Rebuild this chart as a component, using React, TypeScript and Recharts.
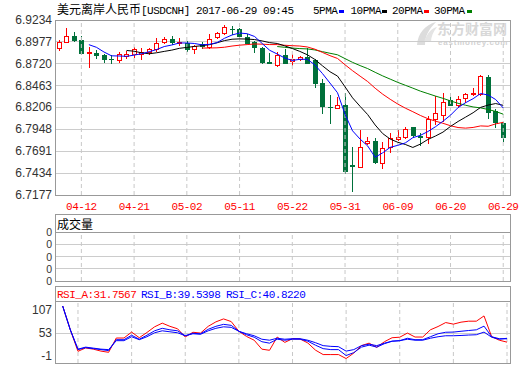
import React from "react";
import { ComposedChart, Bar, Line, XAxis, YAxis, CartesianGrid, ReferenceLine } from "recharts";

const dates = [
  "04-07", "04-10", "04-11", "04-12", "04-13", "04-14", "04-17", "04-18", "04-19", "04-20",
  "04-21", "04-24", "04-25", "04-26", "04-27", "04-28", "05-01", "05-02", "05-03", "05-04",
  "05-05", "05-08", "05-09", "05-10", "05-11", "05-12", "05-15", "05-16", "05-17", "05-18",
  "05-19", "05-22", "05-23", "05-24", "05-25", "05-26", "05-29", "05-30", "05-31", "06-01",
  "06-02", "06-05", "06-06", "06-07", "06-08", "06-09", "06-12", "06-13", "06-14", "06-15",
  "06-16", "06-19", "06-20", "06-21", "06-22", "06-23", "06-26", "06-27", "06-28", "06-29",
];

const opens = [
  6.8905, 6.8979, 6.9046, 6.8999, 6.8846, 6.8850, 6.8823, 6.8781, 6.8764, 6.8814,
  6.8834, 6.8831, 6.8861, 6.8890, 6.8979, 6.9011, 6.8964, 6.8960, 6.8890, 6.8952,
  6.8913, 6.9038, 6.9085, 6.9132, 6.9128, 6.9038, 6.8979, 6.8908, 6.8744, 6.8705,
  6.8823, 6.8752, 6.8781, 6.8803, 6.8764, 6.8490, 6.8217, 6.8203, 6.8235, 6.7530,
  6.7503, 6.7785, 6.7812, 6.7557, 6.7738, 6.7832, 6.7855, 6.7973, 6.7871, 6.7862,
  6.8067, 6.8114, 6.8290, 6.8235, 6.8314, 6.8361, 6.8364, 6.8568, 6.8168, 6.8027,
];
const closes = [
  6.8979, 6.9050, 6.8999, 6.8843, 6.8852, 6.8823, 6.8776, 6.8772, 6.8831, 6.8834,
  6.8890, 6.8861, 6.8890, 6.8960, 6.9011, 6.8979, 6.8979, 6.8890, 6.8932, 6.8928,
  6.9011, 6.9078, 6.9148, 6.9125, 6.9046, 6.8967, 6.8913, 6.8737, 6.8729, 6.8823,
  6.8732, 6.8772, 6.8803, 6.8732, 6.8490, 6.8227, 6.8211, 6.8235, 6.7463, 6.7522,
  6.7738, 6.7812, 6.7568, 6.7726, 6.7844, 6.7855, 6.7949, 6.7882, 6.7859, 6.8067,
  6.8137, 6.8274, 6.8238, 6.8302, 6.8361, 6.8372, 6.8576, 6.8149, 6.8039, 6.7862,
];
const highs = [
  6.8999, 6.9140, 6.9097, 6.9050, 6.8917, 6.8881, 6.8834, 6.8823, 6.8854, 6.8870,
  6.8913, 6.8901, 6.8908, 6.9019, 6.9038, 6.9050, 6.9019, 6.8987, 6.8940, 6.8979,
  6.9066, 6.9097, 6.9175, 6.9163, 6.9144, 6.9064, 6.8987, 6.8913, 6.8843, 6.8861,
  6.8890, 6.8834, 6.8811, 6.8901, 6.8770, 6.8537, 6.8352, 6.8332, 6.8372, 6.7745,
  6.7941, 6.7862, 6.7844, 6.7804, 6.7902, 6.7941, 6.7973, 6.7976, 6.7906, 6.8111,
  6.8337, 6.8372, 6.8370, 6.8341, 6.8372, 6.8431, 6.8588, 6.8588, 6.8184, 6.8039,
];
const lows = [
  6.8887, 6.8975, 6.8987, 6.8840, 6.8676, 6.8791, 6.8744, 6.8732, 6.8744, 6.8791,
  6.8803, 6.8776, 6.8831, 6.8870, 6.8960, 6.8948, 6.8940, 6.8870, 6.8850, 6.8901,
  6.8905, 6.9019, 6.9073, 6.9066, 6.9026, 6.8960, 6.8854, 6.8729, 6.8723, 6.8697,
  6.8729, 6.8705, 6.8764, 6.8729, 6.8450, 6.8144, 6.8027, 6.8196, 6.7432, 6.7228,
  6.7503, 6.7777, 6.7557, 6.7498, 6.7686, 6.7823, 6.7844, 6.7862, 6.7765, 6.7792,
  6.8015, 6.8050, 6.8235, 6.8215, 6.8274, 6.8353, 6.8353, 6.8079, 6.7980, 6.7815,
];

const ma5 = [
  null, null, null, null, 6.8944, 6.8913, 6.8858, 6.8813, 6.8811, 6.8807,
  6.8821, 6.8838, 6.8861, 6.8887, 6.8922, 6.8940, 6.8964, 6.8964, 6.8958, 6.8942,
  6.8948, 6.8968, 6.9019, 6.9058, 6.9081, 6.9073, 6.9040, 6.8958, 6.8878, 6.8834,
  6.8787, 6.8758, 6.8772, 6.8772, 6.8706, 6.8605, 6.8493, 6.8379, 6.8125, 6.7931,
  6.7834, 6.7754, 6.7620, 6.7673, 6.7737, 6.7761, 6.7789, 6.7851, 6.7878, 6.7923,
  6.7979, 6.8044, 6.8115, 6.8204, 6.8262, 6.8309, 6.8370, 6.8352, 6.8299, 6.8200,
];
const ma10 = [
  null, null, null, null, null, null, null, null, null, 6.8876,
  6.8867, 6.8848, 6.8837, 6.8849, 6.8865, 6.8880, 6.8901, 6.8912, 6.8923, 6.8932,
  6.8944, 6.8966, 6.8992, 6.9008, 6.9012, 6.9010, 6.9004, 6.8988, 6.8968, 6.8958,
  6.8930, 6.8899, 6.8865, 6.8825, 6.8770, 6.8696, 6.8626, 6.8575, 6.8449, 6.8319,
  6.8219, 6.8123, 6.8000, 6.7899, 6.7834, 6.7797, 6.7771, 6.7736, 6.7775, 6.7830,
  6.7870, 6.7916, 6.7983, 6.8041, 6.8092, 6.8144, 6.8207, 6.8234, 6.8252, 6.8231,
];
const ma20 = [
  null, null, null, null, null, null, null, null, null, null,
  null, null, null, null, null, null, null, null, null, 6.8904,
  6.8905, 6.8907, 6.8914, 6.8928, 6.8938, 6.8945, 6.8952, 6.8950, 6.8945, 6.8945,
  6.8937, 6.8932, 6.8928, 6.8917, 6.8891, 6.8853, 6.8815, 6.8782, 6.8708, 6.8638,
  6.8574, 6.8511, 6.8432, 6.8362, 6.8302, 6.8246, 6.8198, 6.8156, 6.8112, 6.8074,
  6.8045, 6.8020, 6.7991, 6.7970, 6.7963, 6.7971, 6.7989, 6.7985, 6.8013, 6.8031,
];
const ma30 = [
  null, null, null, null, null, null, null, null, null, null,
  null, null, null, null, null, null, null, null, null, null,
  null, null, null, null, null, null, null, null, null, 6.8922,
  6.8913, 6.8904, 6.8898, 6.8894, 6.8882, 6.8862, 6.8843, 6.8825, 6.8780, 6.8736,
  6.8698, 6.8663, 6.8619, 6.8577, 6.8539, 6.8501, 6.8467, 6.8433, 6.8398, 6.8369,
  6.8340, 6.8313, 6.8283, 6.8255, 6.8232, 6.8212, 6.8201, 6.8182, 6.8159, 6.8127,
];

const volumes = [
  0, 0, 0, 0, 0, 0, 0, 0, 0, 0, 0, 0, 0, 0, 0, 0, 0, 0, 0, 0,
  0, 0, 0, 0, 0, 0, 0, 0, 0, 0, 0, 0, 0, 0, 0, 0, 0, 0, 0, 0,
  0, 0, 0, 0, 0, 0, 0, 0, 0, 0, 0, 0, 0, 0, 0, 0, 0, 0, 0, 0,
];

const rsiA = [
  null, 116.3, 60.6, 10.3, 18.2, 15.4, 10.8, 8.0, 41.4, 41.4,
  55.3, 42.1, 54.4, 67.6, 76.2, 68.8, 63.0, 43.7, 54.9, 53.0,
  68.8, 79.2, 86.1, 79.9, 57.2, 45.1, 36.3, 15.4, 12.7, 43.7,
  31.2, 39.8, 39.1, 29.8, 13.1, 2.7, 2.7, 2.7, -6.6, 6.2,
  23.6, 29.4, 19.6, 32.8, 42.1, 43.3, 53.0, 43.7, 43.7, 60.6,
  68.3, 77.6, 73.9, 78.5, 80.8, 80.8, 93.1, 44.4, 36.3, 31.76,
];
const rsiB = [
  null, 116.3, 60.6, 14.3, 18.9, 16.6, 14.3, 12.0, 37.5, 37.5,
  47.9, 38.6, 47.9, 58.3, 64.1, 60.6, 58.3, 46.7, 52.5, 51.4,
  61.8, 68.8, 73.4, 71.1, 57.2, 49.1, 43.3, 32.8, 29.4, 38.6,
  36.3, 38.6, 38.6, 34.0, 24.7, 16.6, 14.3, 14.3, 0.4, 7.3,
  20.1, 24.7, 20.1, 28.2, 34.0, 35.2, 40.9, 37.5, 37.5, 44.4,
  51.4, 54.9, 55.3, 57.2, 59.0, 60.6, 69.2, 44.4, 39.8, 39.54,
];
const rsiC = [
  null, 116.3, 60.6, 15.4, 20.1, 17.8, 15.4, 14.3, 35.2, 35.2,
  44.4, 37.5, 44.4, 53.7, 58.3, 56.0, 53.7, 46.7, 51.4, 50.2,
  58.3, 64.1, 67.6, 66.4, 57.2, 51.4, 46.7, 38.6, 36.3, 40.9,
  38.6, 39.8, 39.8, 36.3, 30.5, 23.6, 21.9, 21.2, 10.8, 14.3,
  23.6, 27.0, 23.6, 29.4, 34.0, 35.2, 38.6, 36.3, 36.3, 40.9,
  44.4, 46.7, 46.7, 47.4, 48.4, 49.1, 55.3, 43.3, 38.6, 40.82,
];

const dateTicks = ["04-12", "04-21", "05-02", "05-11", "05-22", "05-31", "06-09", "06-20", "06-29"];
const priceTicks = [6.7177, 6.7434, 6.7691, 6.7948, 6.8206, 6.8463, 6.872, 6.8977, 6.9234];
const volTicks = [0, 1, 2, 3, 4];
const volTickLabels = ["0", "0", "0", "0", "0"];
const rsiTicks = [-1, 53, 107];

const RED = "#ff0000";
const GREEN = "#00703a";
const GRID = "#cccccc";
const FRAME = "#999999";
const MONO = "Liberation Mono, DejaVu Sans Mono, monospace";
const SANS = "Liberation Sans, Arial, sans-serif";
const CJK = "Noto Sans CJK SC, sans-serif";

const rows = dates.map((d, i) => ({
  date: d,
  open: opens[i],
  close: closes[i],
  high: highs[i],
  low: lows[i],
  range: [lows[i], highs[i]],
  ma5: ma5[i],
  ma10: ma10[i],
  ma20: ma20[i],
  ma30: ma30[i],
  vol: volumes[i],
  rsiA: rsiA[i],
  rsiB: rsiB[i],
  rsiC: rsiC[i],
}));

function Candle(props: any) {
  const { x, y, width, height, payload } = props;
  if (!payload || x == null || y == null || height == null) return null;
  const o = payload.open, c = payload.close, hi = payload.high, lo = payload.low;
  const top = Math.min(y, y + height);
  const h = Math.abs(height);
  const span = hi - lo;
  const py = (v: number) => (span > 0 ? top + ((hi - v) / span) * h : top);
  const cxi = Math.round(x + width / 2);
  const cx = cxi + 0.5;
  const up = c >= o;
  const col = up ? RED : GREEN;
  const yHi = Math.round(py(hi));
  const yLo = Math.round(py(lo));
  const b1 = Math.round(py(Math.max(o, c)));
  const b2 = Math.round(py(Math.min(o, c)));
  if (b2 - b1 < 1) {
    return (
      <g shapeRendering="crispEdges">
        <line x1={cx} x2={cx} y1={yHi} y2={yLo + 1} stroke={col} />
        <line x1={cxi - 2} x2={cxi + 3} y1={b1 + 0.5} y2={b1 + 0.5} stroke={col} />
      </g>
    );
  }
  if (up) {
    return (
      <g shapeRendering="crispEdges">
        {b1 > yHi && <line x1={cx} x2={cx} y1={yHi} y2={b1} stroke={col} />}
        {yLo > b2 && <line x1={cx} x2={cx} y1={b2 + 1} y2={yLo + 1} stroke={col} />}
        <rect x={cxi - 2 + 0.5} y={b1 + 0.5} width={4} height={b2 - b1} fill="#ffffff" stroke={col} />
      </g>
    );
  }
  return (
    <g shapeRendering="crispEdges">
      <line x1={cx} x2={cx} y1={yHi} y2={yLo + 1} stroke={col} />
      <rect x={cxi - 2} y={b1} width={5} height={b2 - b1 + 1} fill={col} />
    </g>
  );
}

const DateTick = (p: any) => (
  <text x={p.x} y={p.y + 15} textAnchor="middle" fill={RED} fontSize={11} fontFamily={MONO} letterSpacing={-0.5}>
    {p.payload.value}
  </text>
);
const PriceTick = (p: any) => (
  <text x={p.x} y={p.y + 4} textAnchor="end" fill="#333333" fontSize={12} fontFamily={SANS}>
    {Number(p.payload.value).toFixed(4)}
  </text>
);
const VolTick = (p: any) => (
  <text x={p.x} y={p.y + 4} textAnchor="end" fill="#333333" fontSize={10.5} fontFamily={SANS}>
    {volTickLabels[volTicks.indexOf(p.payload.value)] ?? "0"}
  </text>
);
const RsiTick = (p: any) => (
  <text x={p.x} y={p.y + 4} textAnchor="end" fill="#333333" fontSize={12} fontFamily={SANS}>
    {String(p.payload.value)}
  </text>
);

const vLines = (prefix: string) =>
  dateTicks.map((d) => (
    <ReferenceLine key={prefix + d} x={d} stroke="#c8c8c8" strokeDasharray="4 3" ifOverflow="extendDomain" />
  ));

export default function App() {
  return (
    <div style={{ position: "absolute", left: 0, top: 0, width: 520, height: 365, background: "#ffffff", overflow: "hidden" }}>
      <svg width={520} height={365} style={{ position: "absolute", left: 0, top: 0 }}>
        <path d="M417 45 C418 33 425 25 436 22 C429 29 425 36 425 45 Z" fill="#dcdcdc" />
        <path d="M424 42 C427 33 432 28 437 27 C433 32 431 37 431 42 Z" fill="#e4e4e4" />
        <text x={437} y={34} fontSize={14} fontWeight="bold" fill="#d8d8d8" fontFamily={CJK}>东方财富网</text>
        <text x={438} y={45} fontSize={8} fontWeight="bold" fill="#d2d2d2" fontFamily={SANS} letterSpacing={0.8}>eastmoney.com</text>
      </svg>

      <div style={{ position: "absolute", left: 0, top: 0 }}>
        <ComposedChart width={520} height={215} data={rows} margin={{ top: 20, right: 10, bottom: 0, left: 0 }}>
          <CartesianGrid vertical={false} stroke={GRID} shapeRendering="crispEdges" />
          {vLines("m")}
          <XAxis dataKey="date" ticks={dateTicks} interval={0} tick={<DateTick />} tickLine={false} axisLine={false}
            height={20} tickSize={0} tickMargin={0} padding={{ left: 0, right: 3 }} />
          <YAxis domain={[6.7177, 6.9234]} ticks={priceTicks} interval={0} tick={<PriceTick />} tickLine={false}
            axisLine={false} width={55} tickSize={0} tickMargin={3} allowDataOverflow type="number" />
          <Bar dataKey="range" barSize={5} shape={(p: any) => <Candle {...p} />} isAnimationActive={false} />
          <Line dataKey="ma30" stroke="#008000" strokeWidth={1} dot={false} activeDot={false} isAnimationActive={false} />
          <Line dataKey="ma20" stroke="#ff0000" strokeWidth={1} dot={false} activeDot={false} isAnimationActive={false} />
          <Line dataKey="ma10" stroke="#000000" strokeWidth={1} dot={false} activeDot={false} isAnimationActive={false} />
          <Line dataKey="ma5" stroke="#0000ff" strokeWidth={1} dot={false} activeDot={false} isAnimationActive={false} />
        </ComposedChart>
      </div>

      <div style={{ position: "absolute", left: 0, top: 225 }}>
        <ComposedChart width={520} height={63} data={rows} margin={{ top: 7, right: 10, bottom: 7, left: 0 }}>
          <CartesianGrid vertical={false} stroke={GRID} shapeRendering="crispEdges" />
          {vLines("v")}
          <XAxis dataKey="date" hide padding={{ left: 0, right: 3 }} />
          <YAxis domain={[0, 4]} ticks={volTicks} interval={0} tick={<VolTick />} tickLine={false} axisLine={false}
            width={55} tickSize={0} tickMargin={3} type="number" allowDataOverflow />
          <Bar dataKey="vol" fill="#999999" isAnimationActive={false} />
        </ComposedChart>
      </div>

      <div style={{ position: "absolute", left: 0, top: 301 }}>
        <ComposedChart width={520} height={62} data={rows} margin={{ top: 0, right: 10, bottom: 0, left: 0 }}>
          {vLines("r")}
          <ReferenceLine y={53} stroke={GRID} shapeRendering="crispEdges" />
          <XAxis dataKey="date" hide padding={{ left: 0, right: 3 }} />
          <YAxis domain={[-17, 128]} ticks={rsiTicks} interval={0} tick={<RsiTick />} tickLine={false} axisLine={false}
            width={55} tickSize={0} tickMargin={3} type="number" allowDataOverflow />
          <Line dataKey="rsiA" stroke="#ff0000" strokeWidth={1} dot={false} activeDot={false} isAnimationActive={false} />
          <Line dataKey="rsiC" stroke="#0000ff" strokeWidth={1} dot={false} activeDot={false} isAnimationActive={false} />
          <Line dataKey="rsiB" stroke="#0000ff" strokeWidth={1} dot={false} activeDot={false} isAnimationActive={false} />
        </ComposedChart>
      </div>

      <svg width={520} height={365} style={{ position: "absolute", left: 0, top: 0, pointerEvents: "none" }}>
        <text x={57} y={14} fontSize={12} fill="#000000">
          <tspan fontFamily={CJK}>美元离岸人民币</tspan>
          <tspan fontFamily={MONO} fontSize={11} letterSpacing={-0.5}>[USDCNH] 2017-06-29 09:45</tspan>
        </text>
        <text x={313} y={14} fontSize={11} fontFamily={MONO} letterSpacing={-0.5} fill="#000000">5PMA</text>
        <rect x={339} y={10} width={5} height={3} fill="#0000ff" />
        <text x={350.5} y={14} fontSize={11} fontFamily={MONO} letterSpacing={-0.5} fill="#000000">10PMA</text>
        <rect x={382} y={10} width={5} height={3} fill="#000000" />
        <text x={392} y={14} fontSize={11} fontFamily={MONO} letterSpacing={-0.5} fill="#000000">20PMA</text>
        <rect x={424} y={10} width={5} height={3} fill="#ff0000" />
        <text x={434} y={14} fontSize={11} fontFamily={MONO} letterSpacing={-0.5} fill="#000000">30PMA</text>
        <rect x={467} y={10} width={5} height={3} fill="#008000" />

        <g shapeRendering="crispEdges" fill="none" stroke={FRAME}>
          <rect x={55.5} y={20.5} width={455} height={175} />
          <rect x={55.5} y={214.5} width={455} height={67} />
          <line x1={55} x2={511} y1={232.5} y2={232.5} />
          <rect x={55.5} y={286.5} width={455} height={77} />
          <line x1={55} x2={511} y1={301.5} y2={301.5} />
        </g>

        <text x={57} y={229} fontSize={12} fontFamily={CJK} fill="#000000">成交量</text>
        <text x={57} y={298} fontSize={11} fontFamily={MONO} letterSpacing={-0.5} fill={RED}>RSI_A:31.7567</text>
        <text x={141} y={298} fontSize={11} fontFamily={MONO} letterSpacing={-0.5} fill="#0000ff">RSI_B:39.5398</text>
        <text x={226} y={298} fontSize={11} fontFamily={MONO} letterSpacing={-0.5} fill="#0000ff">RSI_C:40.8220</text>
      </svg>
    </div>
  );
}
